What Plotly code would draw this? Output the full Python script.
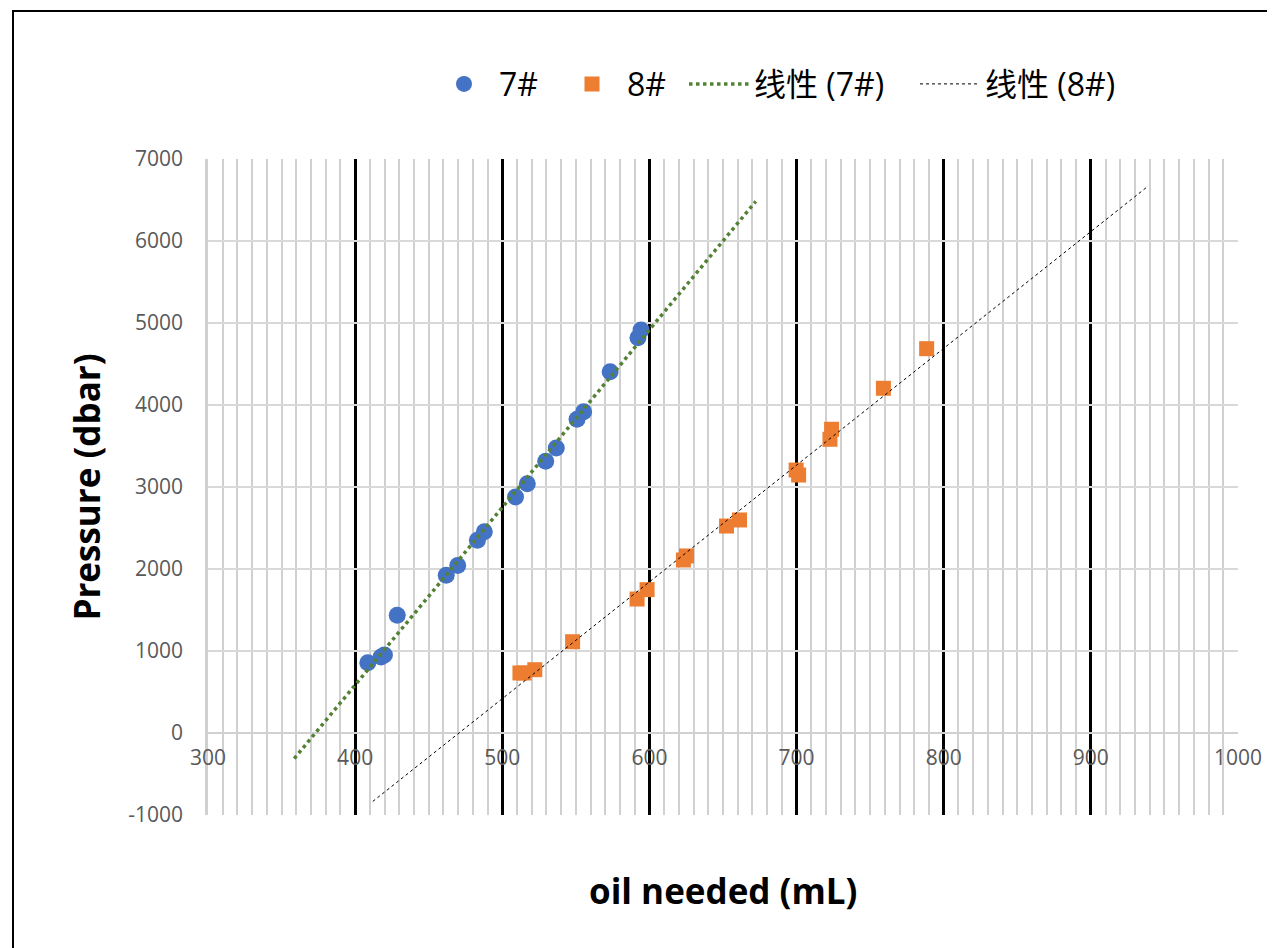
import numpy as np
import plotly.graph_objects as go

# ---- data ----
x7 = [408.6, 417.6, 419.9, 428.6, 461.9, 469.7, 483.1, 487.8, 509.0, 517.0,
      529.5, 536.7, 550.8, 555.3, 573.3, 592.2, 594.3]
y7 = [857, 927, 951, 1435, 1923, 2043, 2351, 2454, 2878, 3040,
      3313, 3476, 3826, 3918, 4406, 4821, 4915]

x8 = [512.0, 514.8, 522.1, 547.8, 591.6, 598.4, 623.1, 625.2, 652.4, 661.2,
      699.7, 701.4, 722.7, 723.8, 759.0, 788.4]
y8 = [732, 732, 772, 1113, 1634, 1748, 2110, 2159, 2524, 2598,
      3207, 3146, 3582, 3704, 4204, 4687]

names = ["7#", "8#", "线性 (7#)", "线性 (8#)"]
x_ticks = [300, 400, 500, 600, 700, 800, 900, 1000]
y_ticks = [-1000, 0, 1000, 2000, 3000, 4000, 5000, 6000, 7000]

# trendline forecast (backward, forward)
fc7 = (50, 78)
fc8 = (100, 150)


def trend(xs, ys, fc):
    k, b = np.polyfit(xs, ys, 1)
    xa = np.array([min(xs) - fc[0], max(xs) + fc[1]])
    return xa, k * xa + b


tx7, ty7 = trend(x7, y7, fc7)
tx8, ty8 = trend(x8, y8, fc8)

CJK = "Noto Sans CJK SC"
LAT = "Open Sans"

fig = go.Figure()
fig.add_trace(go.Scatter(x=x7, y=y7, mode="markers", name=names[0], legend="legend",
                         showlegend=True,
                         marker=dict(symbol="circle", size=17, color="#4472C4")))
fig.add_trace(go.Scatter(x=x8, y=y8, mode="markers", name=names[1], legend="legend2",
                         showlegend=True,
                         marker=dict(symbol="square", size=15, color="#ED7D31")))
fig.add_trace(go.Scatter(x=tx7, y=ty7, mode="lines", name=names[2], legend="legend3",
                         showlegend=True,
                         line=dict(color="#548235", width=3.5, dash="dot")))
fig.add_trace(go.Scatter(x=tx8, y=ty8, mode="lines", name=names[3], legend="legend4",
                         showlegend=True,
                         line=dict(color="#000000", width=1, dash="dot")))


def px2paper(p):
    return (p - 208) / 1030


# legend entry positions (left edges, in reference pixels)
leg_left = [429, 557, 684, 915]


def leg(i):
    return dict(orientation="h", x=px2paper(leg_left[i]), xanchor="left",
                y=1.1142, yanchor="middle", itemwidth=60,
                font=dict(family=f"{LAT}, {CJK}", size=32, color="#000000"),
                bgcolor="rgba(0,0,0,0)")


# page body has an 8px margin, so margins are offset by 8px
fig.update_layout(
    width=1275, height=948,
    margin=dict(l=200, r=45, t=151, b=141),
    plot_bgcolor="white", paper_bgcolor="white",
    showlegend=True,
    font=dict(family=LAT, color="#595959", size=21),
    legend=leg(0), legend2=leg(1), legend3=leg(2), legend4=leg(3),
    xaxis=dict(range=[300, 1000], tickmode="array", tickvals=x_ticks,
               ticktext=[str(v) for v in x_ticks],
               anchor="free", position=0.125,
               showgrid=True, gridcolor="#000000", gridwidth=2.5,
               minor=dict(dtick=10, showgrid=True, gridcolor="#d0d0d0", gridwidth=1.5),
               zeroline=False, showline=False, ticks="", ticklabelstandoff=10,
               tickfont=dict(family=LAT, size=21, color="#595959")),
    yaxis=dict(range=[-1000, 7000], tickmode="array", tickvals=y_ticks,
               ticktext=[str(v) for v in y_ticks],
               showgrid=True, gridcolor="#d9d9d9", gridwidth=2,
               zeroline=True, zerolinecolor="#d0d0d0", zerolinewidth=2,
               showline=True, linecolor="#d0d0d0", linewidth=2.5,
               ticks="", ticklabelstandoff=18,
               tickfont=dict(family=LAT, size=21, color="#595959"),
               title=dict(text="<b>Pressure (dbar)</b>", standoff=18,
                          font=dict(family=LAT, size=35, color="#000000"))),
)

fig.add_annotation(text="<b>oil needed (mL)</b>", xref="paper", yref="paper",
                   x=0.5, y=(815 - 890) / 656, xanchor="center", yanchor="middle",
                   showarrow=False, font=dict(family=LAT, size=35, color="#000000"))

fig.add_shape(type="rect", xref="paper", yref="paper",
              x0=(13 - 208) / 1030, x1=(1290 - 208) / 1030,
              y0=(815 - 960) / 656, y1=(815 - 11) / 656,
              line=dict(color="#000000", width=2), fillcolor="rgba(0,0,0,0)",
              layer="below")

fig.write_html("out.html")
